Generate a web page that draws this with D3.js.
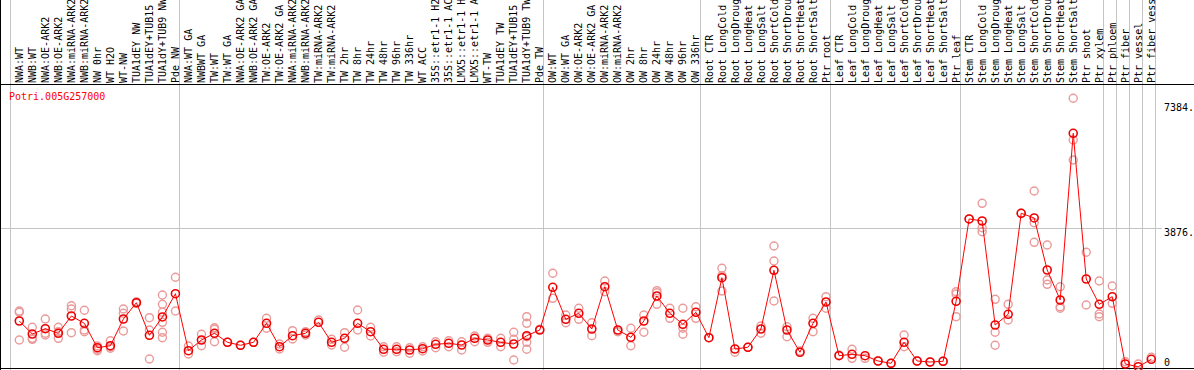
<!DOCTYPE html>
<html>
<head>
<meta charset="utf-8">
<script src="https://cdn.jsdelivr.net/npm/d3@7"></script>
<style>
  body { margin: 0; background: #fff; }
  svg { display: block; }
  text { font-family: "DejaVu Sans Mono", monospace; font-size: 10px; }
</style>
</head>
<body>
<div id="myDataVis"></div>
<script>
// gene shown in the chart
var geneName = 'Potri.005G257000'

// sample names, left to right (the source cuts them at 14 chars)
var labels = [
  'NWA:WT', 'NWB:WT', 'NWA:OE-ARK2', 'NWB:OE-ARK2', 'NWA:miRNA-ARK2', 'NWB:miRNA-ARK2', 'NW 0hr', 'WT H2O', 'WT-NW',
  'TUA1dEY NW', 'TUA1dEY+TUB15', 'TUA1dY+TUB9 NW', 'Pde NW',
  'NWA:WT GA', 'NWBWT GA', 'TW:WT', 'TW:WT GA', 'NWA:OE-ARK2 GA', 'NWB:OE-ARK2 GA', 'TW:OE-ARK2', 'TW:OE-ARK2 GA',
  'NWA:miRNA-ARK2', 'NWB:miRNA-ARK2', 'TW:miRNA-ARK2', 'TW:miRNA-ARK2', 'TW 2hr', 'TW 8hr', 'TW 24hr', 'TW 48hr',
  'TW 96hr', 'TW 336hr', 'WT ACC', '35S::etr1-1 H2', '35S::etr1-1 AC', 'LMX5::etr1-1 H', 'LMX5::etr1-1 A',
  'WT-TW', 'TUA1dEY TW', 'TUA1dEY+TUB15', 'TUA1dY+TUB9 TW', 'Pde TW',
  'OW:WT', 'OW:WT GA', 'OW:OE-ARK2', 'OW:OE-ARK2 GA', 'OW:miRNA-ARK2', 'OW:miRNA-ARK2', 'OW 2hr', 'OW 8hr',
  'OW 24hr', 'OW 48hr', 'OW 96hr', 'OW 336hr',
  'Root CTR', 'Root LongCold', 'Root LongDroug', 'Root LongHeat', 'Root LongSalt', 'Root ShortCold',
  'Root ShortDrou', 'Root ShortHeat', 'Root ShortSalt', 'Ptr root',
  'Leaf CTR', 'Leaf LongCold', 'Leaf LongDroug', 'Leaf LongHeat', 'Leaf LongSalt', 'Leaf ShortCold',
  'Leaf ShortDrou', 'Leaf ShortHeat', 'Leaf ShortSalt', 'Ptr leaf',
  'Stem CTR', 'Stem LongCold', 'Stem LongDroug', 'Stem LongHeat', 'Stem LongSalt', 'Stem ShortCold',
  'Stem ShortDrou', 'Stem ShortHeat', 'Stem ShortSalt', 'Ptr shoot',
  'Ptr xylem', 'Ptr phloem', 'Ptr fiber', 'Ptr vessel', 'Ptr fiber vess'
]

// mean expression per sample
var means = [
  1286, 922, 1070, 942, 1425, 1221, 539, 595, 1342, 1797, 886, 1398, 2049,
  456, 755, 942, 690, 607, 690, 1221, 567, 875, 942, 1249, 690, 802, 1221, 987, 495,
  495, 475, 511, 634, 662, 615, 802, 755, 690, 643, 875, 1034,
  2228, 1333, 1501, 1062, 2244, 1034, 830, 1286, 1984, 1501, 1193, 1529,
  819, 2496, 503, 551, 1062, 2703, 1034, 411, 1221, 1817,
  316, 355, 316, 168, 103, 690, 168, 140, 159, 1836,
  4137, 4081, 1174, 1473, 4296, 4165, 2711, 1873, 6532, 2460,
  1752, 1965, 84, 8, 215
]

// replicate values per sample
var reps = [
  [1565, 1529, 755], [1110, 774, 802], [1342, 894, 942], [1110, 802, 987], [1713, 1621, 959],
  [1585, 1034, 987], [587, 456, 495], [735, 523, 567], [1621, 1501, 1006], [1825, 1780],
  [1378, 1034, 224], [2012, 1752, 1529, 1249, 970, 819], [2507, 1565],
  [587, 363], [914, 595], [1098, 1054, 707], [690], [607], [690], [1361, 1082], [643, 503],
  [1015, 783], [987, 894], [1314], [774, 615], [959, 551], [1593, 1034], [1110, 866], [567, 411],
  [567, 428], [539, 383], [567, 447], [707, 539], [735, 567], [707, 475], [866, 707],
  [802, 690], [802, 567], [970, 774, 196], [1406, 1221, 847, 690, 495], [1054],
  [2619, 1920], [1453, 1238], [1641, 1333], [1238, 875], [2404, 2105], [987], [1082, 595], [1453, 970],
  [2133, 2077, 1752], [1641, 1361], [1641, 1082, 914], [1685, 1361],
  [819], [2759, 2552, 2124], [411], [551], [1146, 942], [3382, 2963, 1845], [1126, 847], [447],
  [1361, 987], [1965, 1641],
  [335], [495, 243], [243], [168], [103], [894, 567], [168], [140], [159], [2105, 2040, 1406],
  [4137], [4575, 3893, 3782], [1892, 970, 607], [1752, 1314], [4296], [4919, 4033, 3485],
  [3410, 2432, 2311], [2244, 1685, 1641], [7510, 6345, 5786], [3206, 1733],
  [2404, 1481, 1406], [2264, 1780], [148], [84], [271]
]

// sample indexes where a group separator is drawn
var groupBreaks = [0, 13, 41, 53, 63, 73, 84, 85, 86, 87, 88]

// y ticks
var yTicks = [0, 3876, 7384]
var yTickLabels = ['0', '3876.', '7384.']
var yGrid = [3876]

const svgWidth = 1194
const svgHeight = 370
const headerBottom = 84
const plotBottom = 367

var svg

document.addEventListener('DOMContentLoaded', function () {
  svg = d3.select('#myDataVis').append('svg')
    .attr('width', svgWidth)
    .attr('height', svgHeight)

  const x = d3.scaleBand()
    .domain(d3.range(labels.length))
    .range([10.5, 1155.5])
  const cx = i => x(i) + 8.8

  const y = d3.scaleLinear()
    .domain([0, 7384])
    .range([plotBottom, 102.8])

  // horizontal grid
  svg.append('g').selectAll('line')
    .data(yGrid)
    .enter().append('line')
    .attr('x1', 0)
    .attr('x2', 1162)
    .attr('y1', d => Math.round(y(d)) + 0.5)
    .attr('y2', d => Math.round(y(d)) + 0.5)
    .attr('stroke', '#c4c4c4')

  // group separators
  svg.append('g').selectAll('line')
    .data(groupBreaks)
    .enter().append('line')
    .attr('x1', d => Math.floor(d === labels.length ? x.range()[1] : x(d)) + 0.5)
    .attr('x2', d => Math.floor(d === labels.length ? x.range()[1] : x(d)) + 0.5)
    .attr('y1', 0)
    .attr('y2', svgHeight)
    .attr('stroke', '#c4c4c4')

  // frame
  svg.append('line')
    .attr('x1', 0).attr('x2', svgWidth)
    .attr('y1', headerBottom + 0.5).attr('y2', headerBottom + 0.5)
    .attr('stroke', '#000')
  svg.append('line')
    .attr('x1', 0).attr('x2', svgWidth)
    .attr('y1', 368.5).attr('y2', 368.5)
    .attr('stroke', '#000')
  svg.append('line')
    .attr('x1', 0.5).attr('x2', 0.5)
    .attr('y1', 0).attr('y2', svgHeight)
    .attr('stroke', '#000')

  // sample labels
  svg.append('g').selectAll('text')
    .data(labels)
    .enter().append('text')
    .attr('transform', (d, i) => `translate(${cx(i) + 3.6}, ${headerBottom - 1}) rotate(-90)`)
    .attr('fill', '#000')
    .text(d => d)

  // title
  svg.append('text')
    .attr('x', 9)
    .attr('y', 100)
    .attr('fill', '#ff0000')
    .text(geneName)

  // y axis on the right
  const yAxis = d3.axisRight(y)
    .tickValues(yTicks)
    .tickFormat((d, i) => yTickLabels[i])
    .tickSize(0)
    .tickPadding(0)
  const yAxisGroup = svg.append('g')
    .attr('transform', 'translate(1164, 0)')
    .call(yAxis)
  yAxisGroup.select('.domain').remove()
  yAxisGroup.selectAll('text')
    .attr('font-family', '"DejaVu Sans Mono", monospace')
    .attr('font-size', 10)
    .attr('fill', '#000')
    .attr('dy', d => d === 0 ? '-0.12em' : '0.74em')

  // replicates
  var repPoints = []
  reps.forEach((r, i) => r.forEach(v => repPoints.push({ i: i, v: v })))
  svg.append('g').selectAll('circle')
    .data(repPoints)
    .enter().append('circle')
    .attr('cx', d => cx(d.i))
    .attr('cy', d => y(d.v))
    .attr('r', 4)
    .attr('fill', 'none')
    .attr('stroke', '#ea9a9a')
    .attr('stroke-width', 1.4)

  // mean line
  const line = d3.line()
    .x((d, i) => cx(i))
    .y(d => y(d))
  svg.append('path')
    .datum(means)
    .attr('d', line)
    .attr('fill', 'none')
    .attr('stroke', '#ff0000')
    .attr('stroke-width', 1)

  // mean markers
  svg.append('g').selectAll('circle')
    .data(means)
    .enter().append('circle')
    .attr('cx', (d, i) => cx(i))
    .attr('cy', d => y(d))
    .attr('r', 4)
    .attr('fill', 'none')
    .attr('stroke', '#ee0000')
    .attr('stroke-width', 1.6)
})
</script>
</body>
</html>
